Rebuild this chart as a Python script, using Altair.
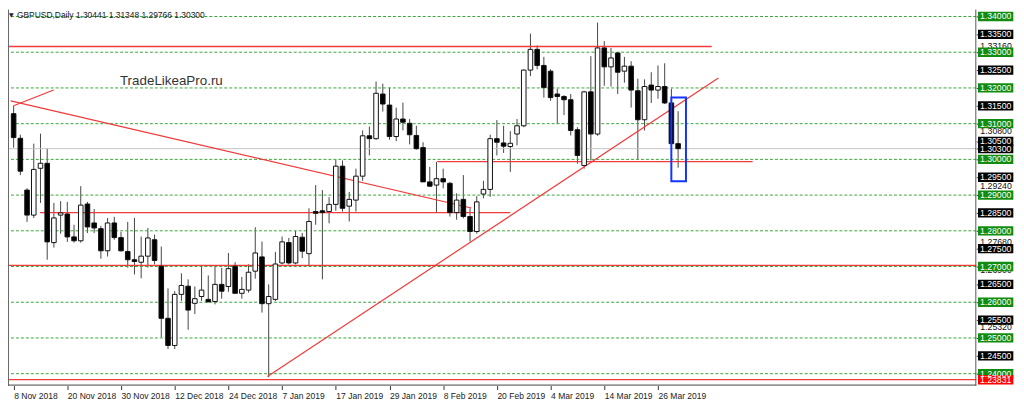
import json
import altair as alt
import pandas as pd

# ---------------- data ----------------
opens = [1.3128, 1.3059, 1.2914, 1.2844, 1.2975, 1.2989, 1.2767, 1.2844, 1.2847, 1.2783,
         1.2772, 1.2875, 1.2822, 1.2806, 1.2744, 1.2822, 1.2781, 1.2742, 1.2719, 1.2712,
         1.2729, 1.2775, 1.2701, 1.2555, 1.2479, 1.2622, 1.2645, 1.2597, 1.2616, 1.2608,
         1.2602, 1.2650, 1.2644, 1.2701, 1.2625, 1.2634, 1.2687, 1.2727, 1.2596, 1.2608,
         1.2710, 1.2767, 1.2710, 1.2782, 1.2736, 1.2854, 1.2856, 1.2854, 1.2874, 1.2981,
         1.2869, 1.2886, 1.2953, 1.3066, 1.3058, 1.3183, 1.3152, 1.3064, 1.3113, 1.3101,
         1.3067, 1.3033, 1.2937, 1.2928, 1.2946, 1.2933, 1.2851, 1.2888, 1.2840, 1.2798,
         1.2903, 1.2916, 1.3058, 1.3046, 1.3036, 1.3071, 1.3094, 1.3250, 1.3308, 1.3263,
         1.3247, 1.3183, 1.3176, 1.3167, 1.3083, 1.2983, 1.3189, 1.3071, 1.3312, 1.3259,
         1.3298, 1.3247, 1.3261, 1.3192, 1.3111, 1.3208, 1.3194, 1.3204, 1.3158, 1.30441]
highs = [1.3150, 1.3069, 1.2919, 1.3044, 1.3072, 1.3031, 1.2878, 1.2883, 1.2881, 1.2817,
         1.2925, 1.2881, 1.2861, 1.2814, 1.2836, 1.2839, 1.2797, 1.2825, 1.2836, 1.2784,
         1.2808, 1.2789, 1.2756, 1.2639, 1.2631, 1.2681, 1.2664, 1.2644, 1.2703, 1.2675,
         1.2703, 1.2696, 1.2738, 1.2712, 1.2671, 1.2706, 1.2810, 1.2770, 1.2650, 1.2741,
         1.2784, 1.2780, 1.2800, 1.2794, 1.2863, 1.2928, 1.2914, 1.2894, 1.2999, 1.2997,
         1.2909, 1.2974, 1.3081, 1.3092, 1.3218, 1.3212, 1.3201, 1.3145, 1.3159, 1.3113,
         1.3094, 1.3048, 1.2979, 1.2993, 1.2974, 1.2937, 1.2905, 1.2956, 1.2863, 1.2897,
         1.2940, 1.3069, 1.3110, 1.3094, 1.3079, 1.3113, 1.3252, 1.3352, 1.3319, 1.3287,
         1.3252, 1.3198, 1.3180, 1.3183, 1.3090, 1.3192, 1.3289, 1.3383, 1.3331, 1.3312,
         1.3300, 1.3287, 1.3275, 1.3226, 1.3224, 1.3244, 1.3263, 1.3269, 1.3198, 1.31348]
lows = [1.3033, 1.2956, 1.2825, 1.2836, 1.2878, 1.2719, 1.2753, 1.2792, 1.2769, 1.2767,
        1.2767, 1.2794, 1.2794, 1.2722, 1.2728, 1.2775, 1.2742, 1.2697, 1.2678, 1.2667,
        1.2697, 1.2706, 1.2502, 1.2469, 1.2469, 1.2604, 1.2523, 1.2567, 1.2604, 1.2601,
        1.2594, 1.2610, 1.2629, 1.2625, 1.2610, 1.2627, 1.2666, 1.2571, 1.2390, 1.2603,
        1.2706, 1.2706, 1.2706, 1.2724, 1.2703, 1.2817, 1.2664, 1.2821, 1.2856, 1.2854,
        1.2826, 1.2854, 1.2940, 1.3011, 1.3055, 1.3134, 1.3055, 1.3051, 1.3081, 1.3042,
        1.3027, 1.2937, 1.2923, 1.2851, 1.2919, 1.2840, 1.2831, 1.2835, 1.2770, 1.2792,
        1.2891, 1.2895, 1.3011, 1.3018, 1.2965, 1.3039, 1.3090, 1.3233, 1.3252, 1.3173,
        1.3164, 1.3099, 1.3124, 1.3067, 1.2988, 1.2974, 1.2997, 1.3066, 1.3206, 1.3204,
        1.3183, 1.3215, 1.3145, 1.3000, 1.3081, 1.3158, 1.3170, 1.3155, 1.3044, 1.29766]
closes = [1.3061, 1.2967, 1.2844, 1.2972, 1.2989, 1.2769, 1.2836, 1.2850, 1.2783, 1.2772,
          1.2872, 1.2811, 1.2808, 1.2744, 1.2822, 1.2781, 1.2744, 1.2719, 1.2714, 1.2729,
          1.2780, 1.2717, 1.2555, 1.2479, 1.2622, 1.2647, 1.2578, 1.2610, 1.2634, 1.2601,
          1.2650, 1.2631, 1.2694, 1.2625, 1.2636, 1.2684, 1.2738, 1.2596, 1.2616, 1.2707,
          1.2769, 1.2710, 1.2784, 1.2743, 1.2826, 1.2849, 1.2851, 1.2874, 1.2981, 1.2863,
          1.2888, 1.2953, 1.3066, 1.3058, 1.3185, 1.3155, 1.3064, 1.3113, 1.3104, 1.3069,
          1.3030, 1.2937, 1.2925, 1.2946, 1.2937, 1.2851, 1.2886, 1.2840, 1.2798, 1.2881,
          1.2916, 1.3058, 1.3048, 1.3037, 1.3045, 1.3094, 1.3250, 1.3308, 1.3263, 1.3201,
          1.3173, 1.3176, 1.3167, 1.3081, 1.3011, 1.3189, 1.3071, 1.3312, 1.3259, 1.3284,
          1.3244, 1.3261, 1.3194, 1.3111, 1.3204, 1.3194, 1.3204, 1.3158, 1.3044, 1.30300]

tick_index = [0, 8, 16, 24, 32, 40, 48, 56, 64, 72, 80, 88, 96]
tick_labels = ["8 Nov 2018", "20 Nov 2018", "30 Nov 2018", "12 Dec 2018", "24 Dec 2018",
               "7 Jan 2019", "17 Jan 2019", "29 Jan 2019", "8 Feb 2019", "20 Feb 2019",
               "4 Mar 2019", "14 Mar 2019", "26 Mar 2019"]

grid_levels = [1.24, 1.25, 1.26, 1.27, 1.28, 1.29, 1.30, 1.31, 1.32, 1.33, 1.34]
half_levels = [1.245, 1.255, 1.265, 1.275, 1.285, 1.295, 1.305, 1.315, 1.325, 1.335]
current_price = 1.30300
red_label_level = 1.23831
plain_levels = [1.3316, 1.3080, 1.2924, 1.2768, 1.2690, 1.2532]

# full-width red lines
full_red_levels = [1.2703, 1.23831]
# partial horizontal red lines
hline_price = [1.3316, 1.2851, 1.2994]
hline_start = [-1.0, 3.93, 63.1]
hline_end = [104.0, 74.0, 110.1]
# trend lines
trend_x0 = [-0.44, 0.0, 37.82]
trend_p0 = [1.31639, 1.3150, 1.2392]
trend_x1 = [68.2, 5.96, 105.0]
trend_p1 = [1.28639, 1.31944, 1.32278]
# highlight box
box_x = [97.99, 100.17]
box_p = [1.29389, 1.31731]

watermark = "TradeLikeaPro.ru"
watermark_pos = (23.5, 1.32194)
title_text = "GBPUSD,Daily  1.30441 1.31348 1.29766 1.30300"

# ---------------- layout ----------------
W, H = 976, 379
FONT = "Liberation Sans"
xscale = alt.Scale(domain=[-0.1, 142.69], nice=False, zero=False)
yscale = alt.Scale(domain=[1.236667, 1.341944], nice=False, zero=False)

df = pd.DataFrame({"i": list(range(len(opens))), "o": opens, "h": highs, "l": lows, "c": closes})

label_expr = f"{json.dumps(tick_labels)}[indexof({json.dumps(tick_index)}, datum.value)]"
xaxis = alt.Axis(values=tick_index, labelExpr=label_expr, title=None, grid=False, domain=False,
                 tickSize=4, tickColor="#333", labelAlign="left", labelFontSize=8.6, labelFont=FONT,
                 labelColor="#222", labelPadding=2, labelOverlap=False, labelFlush=False,
                 labelBaseline="top")
box_levels = sorted(grid_levels + half_levels + [current_price])
yaxis = alt.Axis(orient="right", values=box_levels, labels=False, ticks=True, tickSize=3,
                 grid=False, domain=False, title=None, tickColor="#333")


def X(field):
    return alt.X(field, scale=xscale, axis=xaxis)


def Y(field):
    return alt.Y(field, scale=yscale, axis=yaxis)


grid = alt.Chart(pd.DataFrame({"p": grid_levels})).mark_rule(
    color="#3aa63a", strokeDash=[3, 2], strokeWidth=1).encode(y=Y("p:Q"))

cur_line = alt.Chart(pd.DataFrame({"p": [current_price]})).mark_rule(
    color="#c4c4c4", strokeWidth=1).encode(y=Y("p:Q"))

full_red = alt.Chart(pd.DataFrame({"p": full_red_levels})).mark_rule(
    color="#f23a3a", strokeWidth=1.3).encode(y=Y("p:Q"))

hlines = alt.Chart(pd.DataFrame({"x0": hline_start, "x1": hline_end, "p": hline_price})).mark_rule(
    color="#f23a3a", strokeWidth=1.3, clip=True).encode(
    x=X("x0:Q"), x2="x1:Q", y=Y("p:Q"))

trends = alt.Chart(pd.DataFrame({"x0": trend_x0, "x1": trend_x1, "p0": trend_p0, "p1": trend_p1})).mark_rule(
    color="#f23a3a", strokeWidth=1.2, clip=True).encode(
    x=X("x0:Q"), x2="x1:Q", y=Y("p0:Q"), y2="p1:Q")

wicks = alt.Chart(df).mark_rule(color="#444", strokeWidth=1, clip=True).encode(
    x=X("i:Q"), y=Y("l:Q"), y2="h:Q")

bodies = alt.Chart(df).mark_bar(size=4.6, stroke="#111", strokeWidth=1, clip=True).encode(
    x=X("i:Q"), y=Y("o:Q"), y2="c:Q",
    fill=alt.condition("datum.c >= datum.o", alt.value("white"), alt.value("black")))

rect = alt.Chart(pd.DataFrame({"x0": [box_x[0]], "x1": [box_x[1]], "p0": [box_p[0]], "p1": [box_p[1]]})).mark_rect(
    fillOpacity=0, stroke="#1434ff", strokeWidth=2).encode(
    x=X("x0:Q"), x2="x1:Q", y=Y("p0:Q"), y2="p1:Q")

wm = alt.Chart(pd.DataFrame({"x": [watermark_pos[0]], "p": [watermark_pos[1]], "t": [watermark]})).mark_text(
    font=FONT, fontSize=13.5, color="#333", align="center", baseline="middle").encode(
    x=X("x:Q"), y=Y("p:Q"), text="t:N")

tri = alt.Chart(pd.DataFrame({"t": ["\u25bc"]})).mark_text(
    font="DejaVu Sans", fontSize=6, color="#222", align="left", baseline="middle").encode(
    x=alt.value(1), y=alt.value(5), text="t:N")
ttl = alt.Chart(pd.DataFrame({"t": [title_text]})).mark_text(
    font=FONT, fontSize=8.5, color="#222", align="left", baseline="middle").encode(
    x=alt.value(9), y=alt.value(5), text="t:N")

# frame
frame_df = pd.DataFrame({"k": [0]})
left_b = alt.Chart(frame_df).mark_rule(color="#666", strokeWidth=1).encode(
    x=alt.value(0.5), y=alt.value(0), y2=alt.value(H))
right_b = alt.Chart(frame_df).mark_rule(color="#555", strokeWidth=1).encode(
    x=alt.value(W - 0.5), y=alt.value(0), y2=alt.value(H))
bottom_b = alt.Chart(frame_df).mark_rule(color="#444", strokeWidth=1).encode(
    x=alt.value(0), x2=alt.value(W), y=alt.value(H - 0.5))

# right price labels
BOX_PATH = "M-1,-0.264 L1,-0.264 L1,0.264 L-1,0.264 Z"
BOX_CX = 995.5
plain_df = pd.DataFrame({"p": plain_levels, "t": [f"{v:.5f}" for v in plain_levels]})
plain = alt.Chart(plain_df).mark_text(font=FONT, fontSize=8.8, color="#111", align="left",
                                      baseline="middle").encode(
    x=alt.value(980), y=Y("p:Q"), text="t:N")

lab_levels = half_levels + [current_price] + grid_levels + [red_label_level]
lab_cols = (["#000000"] * len(half_levels) + ["#000000"] + ["#118c11"] * len(grid_levels) + ["#ff0000"])
lab_df = pd.DataFrame({"p": lab_levels, "col": lab_cols, "t": [f"{v:.5f}" for v in lab_levels],
                       "ord": list(range(len(lab_levels)))})
boxes = alt.Chart(lab_df).mark_point(shape=BOX_PATH, size=1267, filled=True, opacity=1,
                                     strokeWidth=0).encode(
    x=alt.value(BOX_CX), y=Y("p:Q"),
    fill=alt.Fill("col:N", scale=None), order="ord:Q")
box_txt = alt.Chart(lab_df).mark_text(font=FONT, fontSize=8.8, color="white", align="center",
                                      baseline="middle").encode(
    x=alt.value(BOX_CX), y=Y("p:Q"), text="t:N")

chart = alt.layer(
    wicks, grid, cur_line, full_red, hlines, trends, bodies, rect, wm, tri, ttl,
    left_b, right_b, bottom_b, plain, boxes, box_txt
).properties(
    width=W, height=H,
    autosize=alt.AutoSizeParams(type="none"),
    padding={"left": 0, "top": 0, "right": 40, "bottom": 19},
    background="white",
).configure_view(strokeWidth=0)

chart.save("out.html", embed_options={"renderer": "svg", "actions": False})
